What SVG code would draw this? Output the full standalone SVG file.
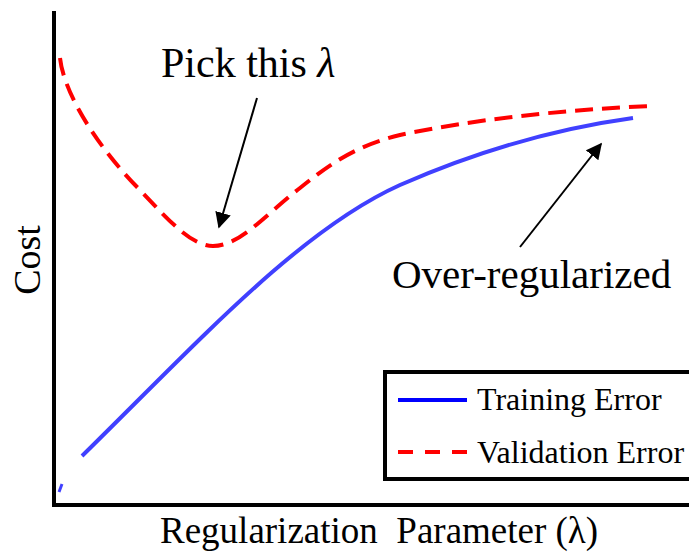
<svg xmlns="http://www.w3.org/2000/svg" width="689" height="554" viewBox="0 0 689 554">
<style>
text{font-family:"Liberation Serif","Times New Roman",serif;fill:#000}
.axis{stroke:#000;stroke-width:4;fill:none}
.train{stroke:#4040ff;stroke-width:4;fill:none}
.val{stroke:#ff0000;stroke-width:4;fill:none;stroke-dasharray:18 9}
.arr{stroke:#000;stroke-width:2;fill:none}
</style>
<defs>
<marker id="ah" viewBox="0 0 10 10" refX="9" refY="5" markerWidth="16" markerHeight="16" markerUnits="userSpaceOnUse" orient="auto">
<path d="M0,0 L10,5 L0,10 Z" fill="#000"/>
</marker>
</defs>
<g id="axes">
<line class="axis" x1="54" y1="11" x2="54" y2="507"/>
<line class="axis" x1="52" y1="505" x2="689" y2="505"/>
</g>
<g id="curves">
<path id="training" class="train" d="M82,456 C200,340 300,230 400,185 C480,150 560,128 633,118"/>
<path d="M59,492 L62,484" stroke="#4040ff" stroke-width="3"/>
<path id="validation" class="val" d="M60,58 C64,95 100,150 140,190 C170,222 192,246 213,246 C240,246 265,215 300,188 C330,164 355,146 400,135 C470,120 560,110 650,106"/>
</g>
<g id="connectors">
<line class="arr" x1="257" y1="98" x2="219" y2="227" marker-end="url(#ah)"/>
<line class="arr" x1="520" y1="247" x2="601" y2="144" marker-end="url(#ah)"/>
</g>
<g id="label-pick">
<text x="161" y="77" font-size="42">Pick this <tspan font-style="italic">λ</tspan></text>
</g>
<g id="label-over">
<text x="392" y="288" font-size="41">Over-regularized</text>
</g>
<g id="ylabel">
<text transform="translate(40,260) rotate(-90)" text-anchor="middle" font-size="38">Cost</text>
</g>
<g id="xlabel">
<text x="160" y="543" font-size="37" xml:space="preserve">Regularization  Parameter (λ)</text>
</g>
<g id="legend">
<rect x="385" y="372" width="320" height="107" fill="#fff" stroke="#000" stroke-width="4"/>
<line x1="398" y1="400" x2="467" y2="400" stroke="#0000ff" stroke-width="4"/>
<text x="477" y="410" font-size="32">Training Error</text>
<line x1="398" y1="452" x2="467" y2="452" stroke="#ff0000" stroke-width="4" stroke-dasharray="15 12"/>
<text x="477" y="463" font-size="32">Validation Error</text>
</g>
</svg>
